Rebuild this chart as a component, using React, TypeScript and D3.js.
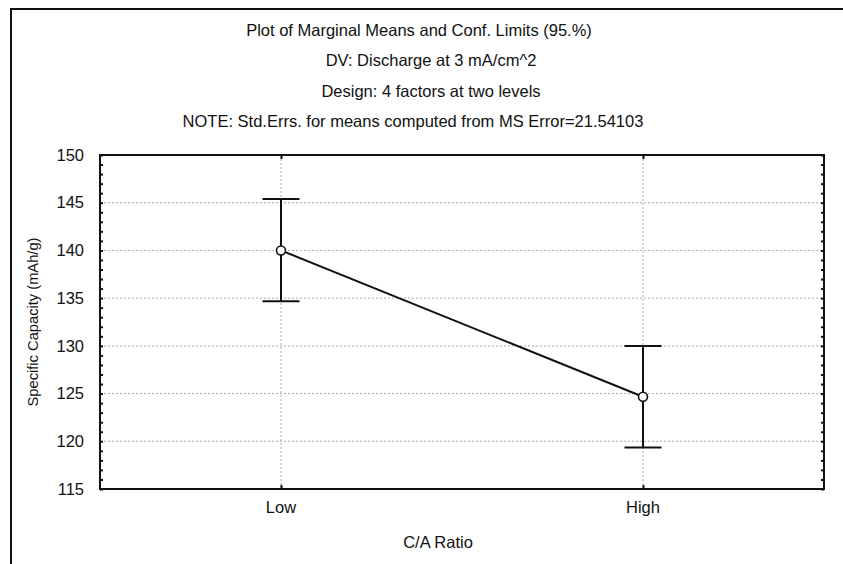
import { useEffect, useRef } from "react";
import * as d3 from "d3";

const categories = ["Low", "High"];
const means = [140.0, 124.67];
const lower = [134.68, 119.36];
const upper = [145.38, 129.98];
const yTicks = [115, 120, 125, 130, 135, 140, 145, 150];
const titleLines = [
  "Plot of Marginal Means and Conf. Limits (95.%)",
  "DV: Discharge at 3 mA/cm^2",
  "Design: 4 factors at two levels",
  "NOTE: Std.Errs. for means computed from MS Error=21.54103",
];
const titleCenters = [419, 431, 431, 413];
const xTitle = "C/A Ratio";
const yTitle = "Specific Capacity (mAh/g)";

function MeansChart() {
  const ref = useRef<SVGSVGElement | null>(null);

  useEffect(() => {
    if (!ref.current) return;
    const W = 843,
      H = 564;
    const margin = { top: 155, right: 19, bottom: 75, left: 100 };
    const width = W - margin.left - margin.right,
      height = H - margin.top - margin.bottom;
    const font = "Arial, 'Liberation Sans', sans-serif";

    const root = d3.select(ref.current);
    root.selectAll("*").remove();

    // outer frame
    root
      .append("rect")
      .attr("x", 11)
      .attr("y", 9)
      .attr("width", 850)
      .attr("height", 600)
      .attr("fill", "white")
      .attr("stroke", "#111")
      .attr("stroke-width", 2);

    // titles
    root
      .selectAll("text.title")
      .data(titleLines)
      .enter()
      .append("text")
      .attr("class", "title")
      .attr("x", (d, i) => titleCenters[i])
      .attr("y", (d, i) => 36 + i * 30.3)
      .attr("text-anchor", "middle")
      .attr("font-family", font)
      .attr("font-size", 16.5)
      .attr("fill", "#111")
      .text((d) => d);

    const svg = root
      .append("g")
      .attr("transform", "translate(" + margin.left + "," + margin.top + ")");

    const x = d3.scalePoint().domain(categories).range([0, width]).padding(0.5);
    const y = d3.scaleLinear().domain([115, 150]).range([height, 0]);

    // grid
    svg
      .selectAll("line.hgrid")
      .data(yTicks.filter((t) => t > 115 && t < 150))
      .enter()
      .append("line")
      .attr("x1", 0)
      .attr("x2", width)
      .attr("y1", (d) => y(d))
      .attr("y2", (d) => y(d))
      .attr("stroke", "#aaa")
      .attr("stroke-width", 1)
      .attr("stroke-dasharray", "2,2");
    svg
      .selectAll("line.vgrid")
      .data(categories)
      .enter()
      .append("line")
      .attr("x1", (d) => x(d)!)
      .attr("x2", (d) => x(d)!)
      .attr("y1", 0)
      .attr("y2", height)
      .attr("stroke", "#aaa")
      .attr("stroke-width", 1)
      .attr("stroke-dasharray", "2,2");

    // minor ticks every unit on left and right
    const minor = d3.range(115, 151, 1);
    const leftAxis = svg
      .append("g")
      .call(d3.axisRight(y).tickValues(minor).tickSize(3).tickFormat(() => ""));
    const rightAxis = svg
      .append("g")
      .attr("transform", "translate(" + width + ",0)")
      .call(d3.axisLeft(y).tickValues(minor).tickSize(3).tickFormat(() => ""));
    const bottomAxis = svg
      .append("g")
      .attr("transform", "translate(0," + height + ")")
      .call(d3.axisTop(x).tickSize(4).tickFormat(() => ""));
    const topAxis = svg
      .append("g")
      .call(d3.axisBottom(x).tickSize(4).tickFormat(() => ""));
    [leftAxis, rightAxis, bottomAxis, topAxis].forEach((g) => {
      g.select(".domain").remove();
      g.selectAll("line").attr("stroke", "#111").attr("stroke-width", 2);
    });

    // frame of plot area
    svg
      .append("rect")
      .attr("width", width)
      .attr("height", height)
      .attr("fill", "none")
      .attr("stroke", "#111")
      .attr("stroke-width", 2);

    // tick labels
    svg
      .selectAll("text.ylab")
      .data(yTicks)
      .enter()
      .append("text")
      .attr("x", -16)
      .attr("y", (d) => y(d))
      .attr("dy", "0.35em")
      .attr("text-anchor", "end")
      .attr("font-family", font)
      .attr("font-size", 16.5)
      .attr("fill", "#111")
      .text((d) => d);
    svg
      .selectAll("text.xlab")
      .data(categories)
      .enter()
      .append("text")
      .attr("x", (d) => x(d)!)
      .attr("y", height + 24)
      .attr("text-anchor", "middle")
      .attr("font-family", font)
      .attr("font-size", 16.5)
      .attr("fill", "#111")
      .text((d) => d);

    // axis titles
    svg
      .append("text")
      .attr("x", 438 - margin.left)
      .attr("y", height + 59)
      .attr("text-anchor", "middle")
      .attr("font-family", font)
      .attr("font-size", 16.5)
      .attr("fill", "#111")
      .text(xTitle);
    svg
      .append("text")
      .attr("transform", "translate(" + (38 - margin.left) + "," + height / 2 + ") rotate(-90)")
      .attr("text-anchor", "middle")
      .attr("font-family", font)
      .attr("font-size", 14.7)
      .attr("fill", "#111")
      .text(yTitle);

    const data = categories.map((c, i) => ({ c, m: means[i], lo: lower[i], hi: upper[i] }));

    // error bars
    const eb = svg.selectAll("g.eb").data(data).enter().append("g");
    eb.append("line")
      .attr("x1", (d) => x(d.c)!)
      .attr("x2", (d) => x(d.c)!)
      .attr("y1", (d) => y(d.lo))
      .attr("y2", (d) => y(d.hi))
      .attr("stroke", "#111")
      .attr("stroke-width", 2);
    [(d: any) => d.lo, (d: any) => d.hi].forEach((acc) => {
      eb.append("line")
        .attr("x1", (d) => x(d.c)! - 18.5)
        .attr("x2", (d) => x(d.c)! + 18.5)
        .attr("y1", (d) => y(acc(d)))
        .attr("y2", (d) => y(acc(d)))
        .attr("stroke", "#111")
        .attr("stroke-width", 2);
    });

    // means line
    const line = d3
      .line<any>()
      .x((d) => x(d.c)!)
      .y((d) => y(d.m));
    svg
      .append("path")
      .datum(data)
      .attr("d", line)
      .attr("fill", "none")
      .attr("stroke", "#111")
      .attr("stroke-width", 2);

    svg
      .selectAll("circle.pt")
      .data(data)
      .enter()
      .append("circle")
      .attr("cx", (d) => x(d.c)!)
      .attr("cy", (d) => y(d.m))
      .attr("r", 4.5)
      .attr("fill", "white")
      .attr("stroke", "#111")
      .attr("stroke-width", 1.6);
  }, []);

  return (
    <svg
      ref={ref}
      width={843}
      height={564}
      style={{ position: "absolute", left: 0, top: 0, background: "white" }}
    />
  );
}

export default function App() {
  return <MeansChart />;
}
